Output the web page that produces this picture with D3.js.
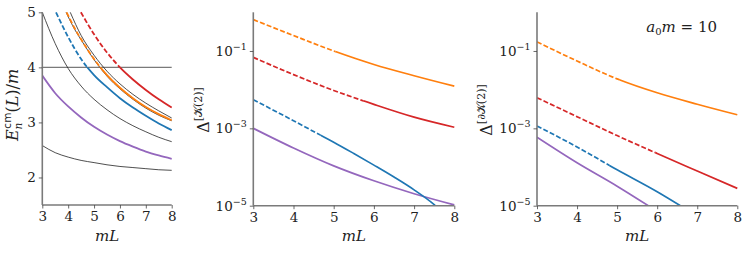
<!DOCTYPE html>
<html>
<head>
<meta charset="utf-8">
<script src="https://cdn.jsdelivr.net/npm/d3@7"></script>
<style>
  body { margin: 0; background: #fff; }
  svg { display: block; font-family: 'DejaVu Serif', serif; }
</style>
</head>
<body>
<svg id="fig" width="748" height="255"></svg>
<script>
// --- panel 1: energies E/m against mL ---
const xTicks = [3, 4, 5, 6, 7, 8];
const eTicks = [2, 3, 4, 5];
const threshold = 4;

// thin black lines (non-interacting levels)
const freeLow   = [[3,2.58],[3.5,2.45],[4,2.37],[4.5,2.31],[5,2.27],[5.5,2.23],[6,2.20],[6.5,2.18],[7,2.16],[7.5,2.14],[8,2.13]];
const freeMid   = [[3,5.0],[3.5,4.43],[4,3.98],[4.5,3.66],[5,3.42],[5.5,3.23],[6,3.07],[6.5,2.94],[7,2.83],[7.5,2.73],[8,2.65]];
const freeUpA   = [[3.92,5.0],[4.25,4.69],[4.5,4.50],[5,4.14],[5.5,3.84],[6,3.61],[6.5,3.42],[7,3.26],[7.5,3.13],[8,3.03]];
const freeUpB   = [[4.08,5.0],[4.5,4.58],[5,4.22],[5.5,3.93],[6,3.70],[6.5,3.51],[7,3.35],[7.5,3.21],[8,3.08]];

// coloured levels
const eBlue   = [[3.53,5.0],[4,4.55],[4.5,4.15],[5,3.86],[5.5,3.64],[6,3.44],[6.5,3.27],[7,3.12],[7.5,2.98],[8,2.86]];
const eOrange = [[3.94,5.0],[4.25,4.71],[4.5,4.51],[5,4.15],[5.5,3.86],[6,3.63],[6.5,3.44],[7,3.28],[7.5,3.15],[8,3.04]];
const eRed    = [[4.49,5.0],[5,4.60],[5.5,4.27],[6,4.0],[6.5,3.78],[7,3.59],[7.5,3.42],[8,3.27]];
const ePurple = [[3,3.85],[3.5,3.53],[4,3.29],[4.5,3.09],[5,2.92],[5.5,2.78],[6,2.66],[6.5,2.56],[7,2.47],[7.5,2.40],[8,2.34]];

// --- panel 2: Delta^[K(2)] ---
const logTicks = [1e-5, 1e-3, 1e-1];
const kOrange = [[3,0.646],[4,0.251],[5,0.100],[6,0.0447],[7,0.0229],[8,0.0123]];
const kRed    = [[3,0.0684],[4,0.0245],[5,0.00955],[6,0.00417],[7,0.00195],[8,0.00107]];
const kBlue   = [[3,5.5e-3],[3.5,2.95e-3],[4,1.58e-3],[4.5,8.3e-4],[5,4.4e-4],[5.5,2.24e-4],[6,1.12e-4],[6.5,5.5e-5],[7,2.57e-5],[7.5,1.07e-5],[7.6,8.7e-6]];
const kPurple = [[3,1.0e-3],[4,3.1e-4],[5,1.07e-4],[6,4.4e-5],[7,2.04e-5],[8,1.05e-5]];
const kDashEnd = { blue: 4.68, orange: 5.05, red: 5.75 };

// --- panel 3: Delta^[dK(2)] ---
const dOrange = [[3,0.172],[4,0.055],[5,0.019],[6,8.3e-3],[7,4.2e-3],[8,2.24e-3]];
const dRed    = [[3,6.2e-3],[4,2.0e-3],[5,6.5e-4],[6,2.24e-4],[7,7.9e-5],[8,2.8e-5]];
const dBlue   = [[3,1.15e-3],[4,3.3e-4],[5,8.5e-5],[6,2.3e-5],[6.58,1e-5]];
const dPurple = [[3,5.9e-4],[4,1.29e-4],[5,3.2e-5],[5.78,1e-5]];
const dDashEnd = { blue: 4.8, orange: 5.07, red: 5.95 };

const colors = { blue: '#1f77b4', orange: '#ff7f0e', red: '#d62728', purple: '#9467bd' };
const dash = '5,2.2';

const svg = d3.select('#fig');
const defs = svg.append('defs');
let clipId = 0;

function clipRect(x, y, w, h) {
  const id = 'c' + (clipId++);
  defs.append('clipPath').attr('id', id)
    .append('rect').attr('x', x).attr('y', y).attr('width', w).attr('height', h);
  return `url(#${id})`;
}

function makePanel(opt) {
  const x = d3.scaleLinear().domain([3, 8]).range([opt.left, opt.right]);
  const y = opt.log
    ? d3.scaleLog().domain([1e-5, 1]).range([opt.bottom, opt.top])
    : d3.scaleLinear().domain([1.5, 5]).range([opt.bottom, opt.top]);
  const g = svg.append('g');
  const plot = g.append('g')
    .attr('clip-path', clipRect(opt.left, opt.top - 1, opt.right - opt.left + 1, opt.bottom - opt.top + 1));
  const line = d3.line().x(d => x(d[0])).y(d => y(d[1])).curve(d3.curveMonotoneX);

  // x axis
  const xa = g.append('g').attr('transform', `translate(0,${opt.bottom})`)
    .call(d3.axisBottom(x).tickValues(xTicks).tickSize(3.5).tickPadding(3).tickFormat(d3.format('d')));
  // y axis
  const ya = g.append('g').attr('transform', `translate(${opt.left},0)`)
    .call(d3.axisLeft(y).tickValues(opt.log ? logTicks : eTicks).tickSize(3.5).tickPadding(3)
      .tickFormat(opt.log ? '' : d3.format('d')));
  [xa, ya].forEach(a => {
    a.attr('font-family', null).attr('font-size', null);
    a.select('.domain').attr('stroke', '#7a7a7a').attr('stroke-width', 1.6);
    a.selectAll('.tick line').attr('stroke', '#444').attr('stroke-width', 0.8);
    a.selectAll('.tick text').attr('font-size', 13.5).attr('fill', '#222');
  });
  xa.select('.domain').attr('d', `M${opt.left},0H${opt.right}`);
  ya.select('.domain').attr('d', `M0,${opt.bottom}V${opt.top}`);

  if (opt.log) {
    ya.selectAll('.tick text').each(function (d) {
      const t = d3.select(this).text('10');
      t.append('tspan').attr('dy', -6).attr('font-size', 9.5).text('\u2212' + Math.round(-Math.log10(d)));
    });
  }

  // x label
  g.append('text').attr('x', (opt.left + opt.right) / 2).attr('y', 241)
    .attr('text-anchor', 'middle').attr('font-size', 15).attr('font-style', 'italic')
    .attr('fill', '#222').text('mL');

  return { x, y, plot, line };
}

// ---------- panel 1 ----------
const p1 = makePanel({ left: 42.3, right: 171.7, top: 12.3, bottom: 205 });
p1.plot.append('line')
  .attr('x1', p1.x(3)).attr('x2', p1.x(8))
  .attr('y1', p1.y(threshold)).attr('y2', p1.y(threshold))
  .attr('stroke', '#7a7a7a').attr('stroke-width', 1.4);

const aboveClip = clipRect(p1.x(3), p1.y(5) - 2, p1.x(8) - p1.x(3) + 2, p1.y(threshold) - p1.y(5) + 2);
const belowClip = clipRect(p1.x(3), p1.y(threshold), p1.x(8) - p1.x(3) + 2, p1.y(1.5) - p1.y(threshold));

[[eBlue, 'blue'], [eRed, 'red']].forEach(([data, c]) => {
  p1.plot.append('path').datum(data).attr('d', p1.line).attr('fill', 'none')
    .attr('stroke', colors[c]).attr('stroke-width', 1.8).attr('stroke-dasharray', dash)
    .attr('clip-path', aboveClip);
  p1.plot.append('path').datum(data).attr('d', p1.line).attr('fill', 'none')
    .attr('stroke', colors[c]).attr('stroke-width', 1.8).attr('clip-path', belowClip);
});
p1.plot.append('path').datum(ePurple).attr('d', p1.line).attr('fill', 'none')
  .attr('stroke', colors.purple).attr('stroke-width', 1.8);

// orange sits between two black levels
p1.plot.append('path').datum(freeUpA).attr('d', p1.line).attr('fill', 'none')
  .attr('stroke', '#222').attr('stroke-width', 0.8);
p1.plot.append('path').datum(eOrange).attr('d', p1.line).attr('fill', 'none')
  .attr('stroke', colors.orange).attr('stroke-width', 1.8).attr('stroke-dasharray', dash)
  .attr('clip-path', aboveClip);
p1.plot.append('path').datum(eOrange).attr('d', p1.line).attr('fill', 'none')
  .attr('stroke', colors.orange).attr('stroke-width', 1.8).attr('clip-path', belowClip);

[freeLow, freeMid, freeUpB].forEach(data => {
  p1.plot.append('path').datum(data).attr('d', p1.line).attr('fill', 'none')
    .attr('stroke', '#222').attr('stroke-width', 0.8);
});

// y label: E_n^cm(L)/m
const yl1 = svg.append('text').attr('transform', 'translate(18,105) rotate(-90)')
  .attr('text-anchor', 'middle').attr('font-size', 16).attr('fill', '#222');
yl1.append('tspan').attr('font-style', 'italic').text('E');
yl1.append('tspan').attr('font-style', 'italic').attr('font-size', 10.5).attr('dy', 4).text('n');
yl1.append('tspan').attr('font-size', 10.5).attr('font-family', "'DejaVu Sans', sans-serif")
  .attr('dx', -6).attr('dy', -11).text('cm');
yl1.append('tspan').attr('dy', 7).text('(');
yl1.append('tspan').attr('font-style', 'italic').text('L');
yl1.append('tspan').text(')/');
yl1.append('tspan').attr('font-style', 'italic').text('m');

// ---------- log panels ----------
function drawLogPanel(p, series, dashEnd) {
  series.forEach(([data, c]) => {
    const end = dashEnd[c];
    if (end === undefined) {
      p.plot.append('path').datum(data).attr('d', p.line).attr('fill', 'none')
        .attr('stroke', colors[c]).attr('stroke-width', 1.7);
      return;
    }
    const [x0, x1] = p.x.range();
    const [yb, yt] = p.y.range();
    p.plot.append('path').datum(data).attr('d', p.line).attr('fill', 'none')
      .attr('stroke', colors[c]).attr('stroke-width', 1.7).attr('stroke-dasharray', dash)
      .attr('clip-path', clipRect(x0 - 2, yt - 2, p.x(end) - x0 + 2, yb - yt + 4));
    p.plot.append('path').datum(data).attr('d', p.line).attr('fill', 'none')
      .attr('stroke', colors[c]).attr('stroke-width', 1.7)
      .attr('clip-path', clipRect(p.x(end), yt - 2, x1 - p.x(end) + 2, yb - yt + 4));
  });
}

const p2 = makePanel({ left: 253.3, right: 454.3, top: 12.3, bottom: 205.7, log: true });
drawLogPanel(p2, [[kPurple, 'purple'], [kBlue, 'blue'], [kRed, 'red'], [kOrange, 'orange']], kDashEnd);

const p3 = makePanel({ left: 537, right: 737.3, top: 12.3, bottom: 205.7, log: true });
drawLogPanel(p3, [[dPurple, 'purple'], [dBlue, 'blue'], [dRed, 'red'], [dOrange, 'orange']], dDashEnd);

function deltaLabel(x, sup) {
  const t = svg.append('text').attr('transform', `translate(${x},110) rotate(-90)`)
    .attr('text-anchor', 'middle').attr('font-size', 16).attr('fill', '#222');
  t.append('tspan').text('\u0394');
  t.append('tspan').attr('font-size', 11).attr('dy', -7).text(sup);
}
deltaLabel(209, '[\ud835\udca6(2)]');
deltaLabel(492, '[\u2202\ud835\udca6(2)]');

// a0 m = 10
const ann = svg.append('text').attr('x', 717).attr('y', 32).attr('text-anchor', 'end')
  .attr('font-size', 15).attr('fill', '#222');
ann.append('tspan').attr('font-style', 'italic').text('a');
ann.append('tspan').attr('font-size', 10).attr('dy', 3).text('0');
ann.append('tspan').attr('font-style', 'italic').attr('dy', -3).text('m');
ann.append('tspan').text(' = 10');
</script>
</body>
</html>
